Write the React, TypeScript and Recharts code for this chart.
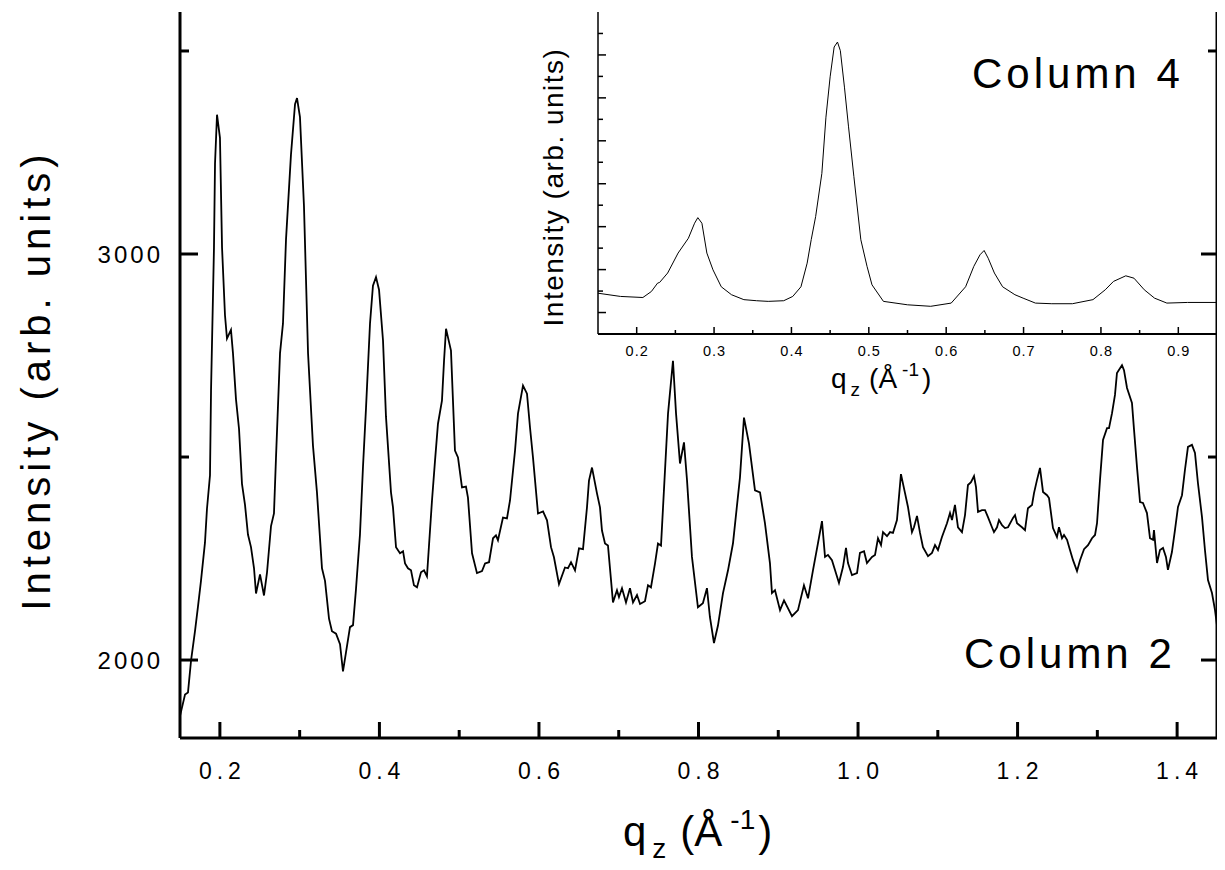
import { LineChart, Line, XAxis, YAxis } from "recharts";

// main curve (Column 2): q_z and intensity
const mainQ = [
  0.15, 0.1513, 0.1563, 0.16, 0.1638, 0.1688, 0.1726, 0.1763, 0.1813, 0.1838,
  0.1876, 0.1889, 0.1926, 0.1939, 0.1964, 0.2001, 0.2027, 0.2064, 0.2089, 0.2139,
  0.2164, 0.2202, 0.224, 0.2277, 0.2315, 0.2352, 0.239, 0.2428, 0.2453, 0.2503,
  0.2553, 0.2591, 0.2641, 0.2678, 0.2703, 0.2754, 0.2791, 0.2829, 0.2891, 0.2942,
  0.2967, 0.3004, 0.3054, 0.3105, 0.3167, 0.3217, 0.328, 0.3318, 0.3368, 0.3405,
  0.3456, 0.3506, 0.3543, 0.3581, 0.3631, 0.3669, 0.3706, 0.3756, 0.3794, 0.3832,
  0.3882, 0.3919, 0.3957, 0.3995, 0.4045, 0.4082, 0.4145, 0.417, 0.4208, 0.4258,
  0.4296, 0.4321, 0.4358, 0.4396, 0.4433, 0.4471, 0.4521, 0.4559, 0.4596, 0.4659,
  0.4697, 0.4734, 0.4784, 0.481, 0.4835, 0.486, 0.4897, 0.4947, 0.4985, 0.5035,
  0.5085, 0.511, 0.5161, 0.5223, 0.5286, 0.5324, 0.5374, 0.5424, 0.5461, 0.5486,
  0.5549, 0.5599, 0.5637, 0.57, 0.5737, 0.58, 0.585, 0.5888, 0.5925, 0.5988,
  0.6051, 0.6101, 0.6151, 0.6188, 0.6251, 0.6326, 0.6364, 0.6402, 0.6452, 0.6502,
  0.6552, 0.6602, 0.6627, 0.6665, 0.6728, 0.6765, 0.679, 0.6828, 0.6865, 0.6928,
  0.6978, 0.7003, 0.7041, 0.7091, 0.7141, 0.7179, 0.7229, 0.7267, 0.7329, 0.7367,
  0.7404, 0.7455, 0.7492, 0.753, 0.758, 0.7618, 0.768, 0.7718, 0.7768, 0.7818,
  0.7856, 0.7918, 0.7993, 0.8055, 0.8106, 0.8143, 0.8194, 0.8244, 0.8307, 0.837,
  0.8432, 0.852, 0.857, 0.8633, 0.8708, 0.8771, 0.8833, 0.8896, 0.8921, 0.8959,
  0.9022, 0.9072, 0.9172, 0.9247, 0.9322, 0.9373, 0.9435, 0.9498, 0.9548, 0.9586,
  0.9623, 0.9673, 0.9711, 0.9761, 0.9811, 0.9849, 0.9874, 0.9924, 0.9987, 1.0024,
  1.0075, 1.0112, 1.0175, 1.0213, 1.025, 1.0288, 1.0313, 1.0363, 1.0401, 1.0438,
  1.0488, 1.0538, 1.0589, 1.0626, 1.0676, 1.0701, 1.0739, 1.0777, 1.0814, 1.0877,
  1.0927, 1.0965, 1.1002, 1.1052, 1.1115, 1.1153, 1.1178, 1.1215, 1.1253, 1.1303,
  1.1341, 1.1378, 1.1416, 1.1454, 1.1479, 1.1504, 1.1554, 1.1592, 1.1629, 1.1679,
  1.1704, 1.1742, 1.1767, 1.1805, 1.1842, 1.188, 1.1943, 1.1968, 1.1993, 1.2055,
  1.2093, 1.213, 1.2181, 1.2206, 1.2243, 1.2281, 1.2319, 1.2369, 1.2394, 1.2419,
  1.2444, 1.2494, 1.2519, 1.2557, 1.2582, 1.262, 1.2657, 1.2695, 1.2745, 1.2783,
  1.2833, 1.2883, 1.2933, 1.2971, 1.2996, 1.3033, 1.3071, 1.3121, 1.3146, 1.3184,
  1.3221, 1.3246, 1.3309, 1.3334, 1.3372, 1.3434, 1.346, 1.3497, 1.3535, 1.3572,
  1.3622, 1.366, 1.3698, 1.371, 1.3748, 1.3785, 1.3823, 1.386, 1.3885, 1.3935,
  1.3973, 1.4011, 1.4061, 1.4098, 1.4136, 1.4186, 1.4224, 1.4261, 1.4312, 1.4349,
  1.4387, 1.4437, 1.4475, 1.45,
];

const mainIntensity = [
  1862, 1873, 1915, 1920, 1998, 2071, 2133, 2195, 2289, 2372,
  2455, 2663, 3016, 3223, 3343, 3286, 3016, 2849, 2792, 2813,
  2756, 2642, 2569, 2434, 2382, 2309, 2278, 2226, 2164, 2211,
  2159, 2216, 2330, 2361, 2496, 2756, 2829, 3036, 3244, 3369,
  3384, 3337, 3119, 2756, 2528, 2413, 2226, 2195, 2102, 2071,
  2065, 2039, 1972, 2019, 2081, 2086, 2174, 2309, 2476, 2621,
  2829, 2922, 2943, 2912, 2787, 2600, 2413, 2376, 2278, 2263,
  2268, 2238, 2226, 2221, 2184, 2179, 2216, 2221, 2206, 2393,
  2491, 2582, 2639, 2737, 2816, 2794, 2762, 2516, 2499, 2425,
  2427, 2400, 2263, 2214, 2219, 2238, 2241, 2300, 2307, 2295,
  2351, 2349, 2393, 2516, 2607, 2676, 2656, 2572, 2499, 2361,
  2366, 2344, 2278, 2253, 2187, 2228, 2226, 2241, 2221, 2275,
  2273, 2376, 2442, 2474, 2410, 2376, 2319, 2287, 2282, 2142,
  2172, 2155, 2177, 2142, 2177, 2142, 2160, 2138, 2145, 2184,
  2179, 2238, 2287, 2282, 2467, 2607, 2737, 2608, 2484, 2536,
  2443, 2254, 2130, 2140, 2177, 2106, 2042, 2085, 2165, 2221,
  2287, 2450, 2597, 2533, 2418, 2413, 2337, 2238, 2165, 2172,
  2123, 2147, 2108, 2123, 2184, 2152, 2221, 2288, 2342, 2254,
  2259, 2246, 2222, 2190, 2229, 2276, 2239, 2209, 2214, 2264,
  2268, 2239, 2254, 2259, 2300, 2283, 2315, 2305, 2315, 2313,
  2345, 2458, 2411, 2377, 2315, 2327, 2355, 2313, 2278, 2256,
  2264, 2283, 2271, 2303, 2337, 2362, 2345, 2382, 2327, 2315,
  2357, 2431, 2438, 2453, 2426, 2365, 2369, 2369, 2352, 2327,
  2315, 2327, 2345, 2332, 2325, 2327, 2350, 2357, 2337, 2327,
  2320, 2374, 2382, 2411, 2443, 2473, 2414, 2406, 2399, 2362,
  2325, 2303, 2327, 2300, 2308, 2296, 2271, 2246, 2219, 2246,
  2273, 2283, 2300, 2308, 2337, 2443, 2542, 2571, 2571, 2608,
  2653, 2707, 2726, 2714, 2670, 2633, 2567, 2475, 2389, 2387,
  2362, 2300, 2296, 2320, 2239, 2271, 2276, 2254, 2222, 2266,
  2320, 2377, 2406, 2468, 2525, 2530, 2510, 2436, 2352, 2271,
  2197, 2165, 2123, 2085,
];

// inset curve (Column 4), arbitrary units
const insetQ = [
  0.15, 0.179, 0.208, 0.219, 0.227, 0.2296, 0.24, 0.2535, 0.2668, 0.2748,
  0.279, 0.2843, 0.2907, 0.2986, 0.3093, 0.3225, 0.3385, 0.355, 0.37, 0.39,
  0.4017, 0.4123, 0.4203, 0.4256, 0.4313, 0.4393, 0.4446, 0.45, 0.4552, 0.4595,
  0.4632, 0.4685, 0.4738, 0.4807, 0.4897, 0.4977, 0.5041, 0.5189, 0.55, 0.58,
  0.6065, 0.6251, 0.6357, 0.6437, 0.649, 0.6543, 0.6623, 0.6729, 0.6888, 0.6994,
  0.7153, 0.7365, 0.7631, 0.7897, 0.8056, 0.8162, 0.8321, 0.8427, 0.856, 0.8693,
  0.8852, 0.9118, 0.95,
];

const insetIntensity = [
  1.9, 1.75, 1.7, 1.98, 2.37, 2.4, 2.84, 3.77, 4.46, 5.16,
  5.42, 5.16, 3.77, 2.99, 2.2, 1.83, 1.6, 1.55, 1.52, 1.55,
  1.75, 2.2, 3.3, 4.4, 5.47, 7.48, 10.1, 11.98, 13.37, 13.6,
  13.2, 11.5, 9.65, 7.33, 4.39, 3.15, 2.29, 1.52, 1.36, 1.29,
  1.44, 2.2, 3.15, 3.69, 3.89, 3.53, 2.84, 2.2, 1.83, 1.67,
  1.44, 1.41, 1.41, 1.6, 2.06, 2.45, 2.71, 2.6, 2.06, 1.67,
  1.44, 1.47, 1.47,
];

const mainXTicks = [0.2, 0.3, 0.4, 0.5, 0.6, 0.7, 0.8, 0.9, 1.0, 1.1, 1.2, 1.3, 1.4];
const mainYTicks = [2000, 2500, 3000, 3500];
const mainYLabels = [2000, 3000];
const insetXTicks = [0.2, 0.25, 0.3, 0.35, 0.4, 0.45, 0.5, 0.55, 0.6, 0.65, 0.7, 0.75, 0.8, 0.85, 0.9];
const insetYTicks = [1, 2, 3, 4, 5, 6, 7, 8, 9, 10, 11, 12, 13, 14];

const mainData = mainQ.map((q, i) => ({ q, v: mainIntensity[i] }));
const insetData = insetQ.map((q, i) => ({ q, v: insetIntensity[i] }));

const FONT = "'Liberation Sans', Arial, sans-serif";

const isTenth = (v: number) => Math.round(v * 10) % 2 === 0;
const isMajorHalf = (v: number) => Math.round(v * 100) % 10 === 0;

// ---- main chart ticks (drawn inward) ----
const MainBottomTick = ({ x, y, payload }: any) => {
  const major = isTenth(payload.value);
  return (
    <g>
      <line x1={x} x2={x} y1={y} y2={y - (major ? 16 : 8)} stroke="#000" strokeWidth={3} />
      {major && (
        <text x={x} y={y + 41} dx={2.5} textAnchor="middle" fontSize={23} letterSpacing={5} fontFamily={FONT} fill="#000">
          {payload.value.toFixed(1)}
        </text>
      )}
    </g>
  );
};

const MainTopTick = ({ x, y, payload }: any) => {
  const major = isTenth(payload.value);
  return <line x1={x} x2={x} y1={y} y2={y + (major ? 13 : 7)} stroke="#000" strokeWidth={3} />;
};

const MainLeftTick = ({ x, y, payload }: any) => {
  const major = mainYLabels.includes(payload.value);
  return (
    <g>
      <line x1={x} x2={x + (major ? 18 : 9)} y1={y} y2={y} stroke="#000" strokeWidth={3} />
      {major && (
        <text x={x - 17} y={y + 9} textAnchor="end" fontSize={24} letterSpacing={3} fontFamily={FONT} fill="#000">
          {payload.value}
        </text>
      )}
    </g>
  );
};

const MainRightTick = ({ x, y, payload }: any) => {
  const major = mainYLabels.includes(payload.value);
  return <line x1={x} x2={x - (major ? 16 : 9)} y1={y} y2={y} stroke="#000" strokeWidth={3} />;
};

// ---- inset ticks ----
const InsetBottomTick = ({ x, y, payload }: any) => {
  const major = isMajorHalf(payload.value);
  return (
    <g>
      <line x1={x} x2={x} y1={y} y2={y - (major ? 7 : 4)} stroke="#000" strokeWidth={1.5} />
      {major && (
        <text x={x} y={y + 22} dx={0.5} textAnchor="middle" fontSize={14.5} letterSpacing={1} fontFamily={FONT} fill="#000">
          {payload.value.toFixed(1)}
        </text>
      )}
    </g>
  );
};

const InsetLeftTick = ({ x, y, payload }: any) => {
  const major = payload.value % 2 === 1;
  return <line x1={x} x2={x + (major ? 8 : 5)} y1={y} y2={y} stroke="#000" strokeWidth={1.5} />;
};

// ---- axis titles ----
const MainXLabel = () => (
  <text x={623} y={846} fontSize={42} fontFamily={FONT} fill="#000">
    <tspan>q</tspan>
    <tspan fontSize={28} dx={6} dy={12}>z</tspan>
    <tspan dx={14} dy={-12}>(Å</tspan>
    <tspan fontSize={28} dx={8} dy={-17}>-1</tspan>
    <tspan dx={3} dy={17}>)</tspan>
  </text>
);

const MainYLabel = () => (
  <text
    x={50}
    y={380}
    transform="rotate(-90, 50, 380)"
    textAnchor="middle"
    fontSize={40}
    letterSpacing={5}
    fontFamily={FONT}
    fill="#000"
  >
    Intensity (arb. units)
  </text>
);

// inset chart starts at page x = 500
const InsetXLabel = () => (
  <text x={331} y={388} fontSize={28} fontFamily={FONT} fill="#000">
    <tspan>q</tspan>
    <tspan fontSize={19} dx={4} dy={8}>z</tspan>
    <tspan dx={9} dy={-8}>(Å</tspan>
    <tspan fontSize={19} dx={5} dy={-12}>-1</tspan>
    <tspan dx={3} dy={12}>)</tspan>
  </text>
);

const InsetYLabel = () => (
  <text
    x={63}
    y={187}
    transform="rotate(-90, 63, 187)"
    textAnchor="middle"
    fontSize={28}
    letterSpacing={1.5}
    fontFamily={FONT}
    fill="#000"
  >
    Intensity (arb. units)
  </text>
);

export default function App() {
  return (
    <div style={{ position: "relative", width: 1225, height: 870 }}>
      {/* main plot */}
      <div style={{ position: "absolute", left: -8, top: -8 }}>
        <LineChart width={1225} height={870} data={mainData} margin={{ top: 12, right: 0, bottom: 0, left: 0 }}>
          <XAxis
            dataKey="q"
            type="number"
            domain={[0.15, 1.45]}
            ticks={mainXTicks}
            interval={0}
            height={132}
            tickSize={0}
            tickMargin={0}
            tickLine={false}
            axisLine={{ stroke: "#000", strokeWidth: 3 }}
            tick={(p: any) => <MainBottomTick {...p} />}
            label={<MainXLabel />}
            allowDataOverflow
          />
          <XAxis
            xAxisId="top"
            orientation="top"
            dataKey="q"
            type="number"
            domain={[0.15, 1.45]}
            ticks={mainXTicks}
            interval={0}
            height={0}
            tickSize={0}
            tickMargin={0}
            tickLine={false}
            axisLine={{ stroke: "#000", strokeWidth: 3 }}
            tick={(p: any) => <MainTopTick {...p} />}
            allowDataOverflow
          />
          <YAxis
            type="number"
            domain={[1808, 3596]}
            ticks={mainYTicks}
            interval={0}
            width={180}
            tickSize={0}
            tickMargin={0}
            tickLine={false}
            axisLine={{ stroke: "#000", strokeWidth: 3 }}
            tick={(p: any) => <MainLeftTick {...p} />}
            label={<MainYLabel />}
            allowDataOverflow
          />
          <YAxis
            yAxisId="right"
            orientation="right"
            type="number"
            domain={[1808, 3596]}
            ticks={mainYTicks}
            interval={0}
            width={8}
            tickSize={0}
            tickMargin={0}
            tickLine={false}
            axisLine={{ stroke: "#000", strokeWidth: 3 }}
            tick={(p: any) => <MainRightTick {...p} />}
            allowDataOverflow
          />
          <Line
            type="linear"
            dataKey="v"
            stroke="#000"
            strokeWidth={1.8}
            dot={false}
            activeDot={false}
            isAnimationActive={false}
          />
        </LineChart>
      </div>

      {/* "Column 2" / "Column 4" captions */}
      <svg
        width={1225}
        height={870}
        style={{ position: "absolute", left: -8, top: -8, pointerEvents: "none" }}
      >
        <text x={964} y={668} fontSize={42} letterSpacing={4} fontFamily={FONT} fill="#000">
          Column 2
        </text>
        <text x={972} y={88} fontSize={42} letterSpacing={4} fontFamily={FONT} fill="#000">
          Column 4
        </text>
      </svg>

      {/* inset plot */}
      <div style={{ position: "absolute", left: 500 - 8, top: -8 }}>
        <LineChart width={725} height={410} data={insetData} margin={{ top: 12, right: 8, bottom: 0, left: 0 }}>
          <XAxis
            dataKey="q"
            type="number"
            domain={[0.15, 0.95]}
            ticks={insetXTicks}
            interval={0}
            height={76}
            tickSize={0}
            tickMargin={0}
            tickLine={false}
            axisLine={{ stroke: "#000", strokeWidth: 2 }}
            tick={(p: any) => <InsetBottomTick {...p} />}
            label={<InsetXLabel />}
            allowDataOverflow
          />
          <YAxis
            type="number"
            domain={[0, 15]}
            ticks={insetYTicks}
            interval={0}
            width={98}
            tickSize={0}
            tickMargin={0}
            tickLine={false}
            axisLine={{ stroke: "#000", strokeWidth: 1.5 }}
            tick={(p: any) => <InsetLeftTick {...p} />}
            label={<InsetYLabel />}
            allowDataOverflow
          />
          <Line
            type="linear"
            dataKey="v"
            stroke="#000"
            strokeWidth={1}
            dot={false}
            activeDot={false}
            isAnimationActive={false}
          />
        </LineChart>
      </div>
    </div>
  );
}
